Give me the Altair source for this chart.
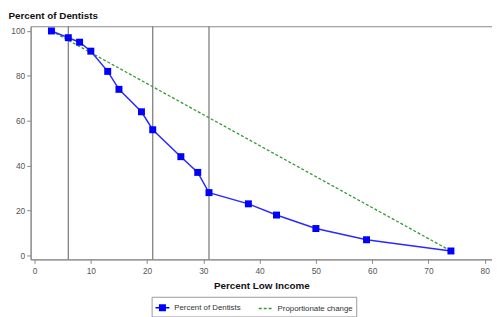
import altair as alt
import pandas as pd

# Data
pct_low_income = [3, 6, 8, 10, 13, 15, 19, 21, 26, 29, 31, 38, 43, 50, 59, 74]
pct_dentists = [100, 97, 95, 91, 82, 74, 64, 56, 44, 37, 28, 23, 18, 12, 7, 2]
prop_x = [3, 74]
prop_y = [100, 2]
cutoffs = [6, 21, 31]
series_names = ["Percent of Dentists", "Proportionate change"]
series_colors = ["#0000ff", "#339933"]
x_ticks = [0, 10, 20, 30, 40, 50, 60, 70, 80]
y_ticks = [0, 20, 40, 60, 80, 100]

FONT = "Liberation Sans"

dent = pd.DataFrame({"x": pct_low_income, "y": pct_dentists, "series": series_names[0]})
prop = pd.DataFrame({"x": prop_x, "y": prop_y, "series": series_names[1]})
cut = pd.DataFrame({"x": cutoffs})

xscale = alt.Scale(domain=[-0.7, 81.3], nice=False, zero=False)
yscale = alt.Scale(domain=[-1.75, 102.1], nice=False, zero=False)
cscale = alt.Scale(domain=series_names, range=series_colors)
shape_scale = alt.Scale(domain=series_names,
                        range=["M-1,0H1M-0.4,-0.4H0.4V0.4H-0.4Z", "M-1,0H1"])
dash_scale = alt.Scale(domain=series_names, range=[[1, 0], [3, 2]])

xax = alt.Axis(values=x_ticks, title="Percent Low Income", grid=False, tickSize=4,
               labelPadding=3, titlePadding=6)
yax = alt.Axis(values=y_ticks, title="Percent of Dentists", grid=False, tickSize=4,
               labelPadding=2, titleAngle=0, titleAlign="left", titleX=-23, titleY=-11,
               titleBaseline="middle")

legend = alt.Legend(
    title=None, orient="none", legendX=123, legendY=275, direction="horizontal",
    strokeColor="#999999", padding=3, symbolSize=200, labelFontSize=8,
    labelColor="#333333", labelFont=FONT, columnPadding=14, symbolStrokeWidth=1.5,
)

rules = alt.Chart(cut).mark_rule(color="#7f7f7f", strokeWidth=1.3).encode(
    x=alt.X("x:Q", scale=xscale, axis=xax)
)

prop_line = alt.Chart(prop).mark_line(strokeDash=[3, 2], strokeWidth=1.3,
                                      color=series_colors[1]).encode(
    x=alt.X("x:Q", scale=xscale, axis=xax),
    y=alt.Y("y:Q", scale=yscale, axis=yax),
)

dent_line = alt.Chart(dent).mark_line(strokeWidth=1.5, color="#2a2aff").encode(
    x=alt.X("x:Q", scale=xscale, axis=xax),
    y=alt.Y("y:Q", scale=yscale, axis=yax),
)

dent_pts = alt.Chart(dent).mark_point(shape="square", filled=True, size=50, opacity=1,
                                      color=series_colors[0]).encode(
    x=alt.X("x:Q", scale=xscale, axis=xax),
    y=alt.Y("y:Q", scale=yscale, axis=yax),
)

# legend-only layer (no rows drawn; entries come from the explicit scale domains)
legend_layer = alt.Chart(dent).transform_filter("false").mark_point(
    filled=False, opacity=1
).encode(
    x=alt.X("x:Q", scale=xscale, axis=xax),
    y=alt.Y("y:Q", scale=yscale, axis=yax),
    color=alt.Color("series:N", scale=cscale, legend=legend),
    fill=alt.Fill("series:N", scale=cscale, legend=legend),
    shape=alt.Shape("series:N", scale=shape_scale, legend=legend),
    strokeDash=alt.StrokeDash("series:N", scale=dash_scale, legend=legend),
)

chart = (
    alt.layer(rules, prop_line, dent_line, dent_pts, legend_layer)
    .properties(
        width=469,
        height=237,
        autosize=alt.AutoSizeParams(type="none"),
        padding={"left": 23, "top": 16, "right": 0, "bottom": 56},
    )
    .configure_view(stroke="#888888", strokeWidth=1)
    .configure_axis(
        domainColor="#888888", tickColor="#888888", labelColor="#555555",
        labelFont=FONT, labelFontSize=8.5, titleFont=FONT, titleFontSize=10,
        titleFontWeight="bold", titleColor="#111111", domainWidth=1,
    )
)

chart.save("out.html", embed_options={"renderer": "svg", "actions": False})
